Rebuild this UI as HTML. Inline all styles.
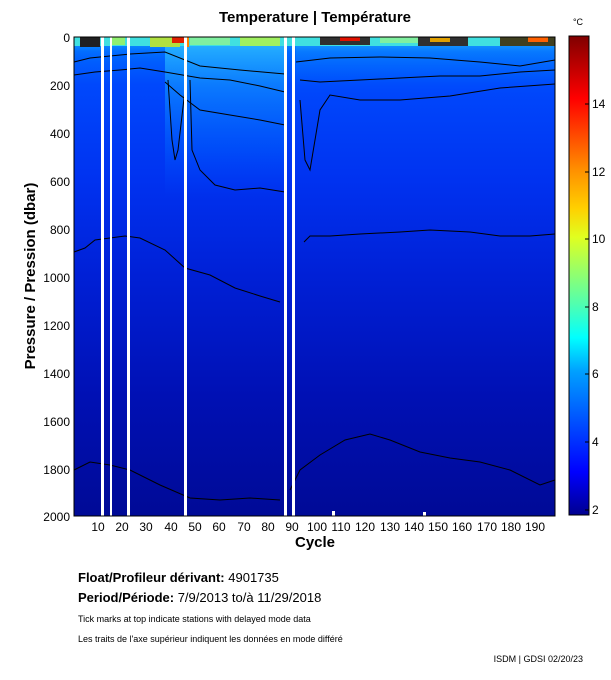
<!DOCTYPE html>
<html><head><meta charset="utf-8"><style>
body{margin:0;background:#fff;width:611px;height:675px;overflow:hidden;font-family:"Liberation Sans",sans-serif}
</style></head><body>
<svg width="611" height="675" viewBox="0 0 611 675" xmlns="http://www.w3.org/2000/svg" font-family="Liberation Sans, sans-serif">
<defs>
<linearGradient id="base" x1="0" y1="0" x2="0" y2="1">
<stop offset="0" stop-color="#10a0ff"/>
<stop offset="0.03" stop-color="#0068ff"/>
<stop offset="0.1" stop-color="#0048fc"/>
<stop offset="0.3" stop-color="#0032f0"/>
<stop offset="0.5" stop-color="#0020d6"/>
<stop offset="0.75" stop-color="#0010b4"/>
<stop offset="1" stop-color="#000a96"/>
</linearGradient>
<linearGradient id="mid" x1="0" y1="0" x2="0" y2="1">
<stop offset="0" stop-color="#30c0ff" stop-opacity="0.9"/>
<stop offset="0.3" stop-color="#1090ff" stop-opacity="0.7"/>
<stop offset="0.7" stop-color="#0068ff" stop-opacity="0.4"/>
<stop offset="1" stop-color="#0050ff" stop-opacity="0"/>
</linearGradient>
<linearGradient id="cb" x1="0" y1="1" x2="0" y2="0">
<stop offset="0" stop-color="#00008f"/>
<stop offset="0.09" stop-color="#0000ff"/>
<stop offset="0.3" stop-color="#00a0ff"/>
<stop offset="0.37" stop-color="#00ffff"/>
<stop offset="0.44" stop-color="#50ffb0"/>
<stop offset="0.58" stop-color="#e0ff20"/>
<stop offset="0.64" stop-color="#ffd000"/>
<stop offset="0.72" stop-color="#ff9000"/>
<stop offset="0.87" stop-color="#ff0000"/>
<stop offset="1" stop-color="#800000"/>
</linearGradient>
</defs>
<text x="315" y="22" font-size="15" font-weight="bold" text-anchor="middle">Temperature | Température</text>
<rect x="74" y="37" width="481" height="479" fill="url(#base)"/>
<rect x="165" y="37" width="120" height="160" fill="url(#mid)"/>
<rect x="296" y="37" width="259" height="60" fill="url(#mid)" opacity="0.5"/>
<rect x="74" y="37" width="91" height="30" fill="url(#mid)" opacity="0.5"/>
<rect x="74" y="37" width="481" height="9" fill="#40e0e0"/>
<rect x="80" y="37" width="20" height="10" fill="#202020"/>
<rect x="110" y="37" width="15" height="8" fill="#90f070"/>
<rect x="150" y="37" width="30" height="10" fill="#b0e040"/>
<rect x="172" y="37" width="12" height="6" fill="#e02000"/>
<rect x="184" y="37" width="5" height="10" fill="#ff8000"/>
<rect x="190" y="37" width="40" height="8" fill="#80f0a0"/>
<rect x="240" y="37" width="40" height="9" fill="#a0f060"/>
<rect x="320" y="37" width="50" height="8" fill="#303030"/>
<rect x="340" y="37" width="20" height="4" fill="#e01000"/>
<rect x="380" y="37" width="40" height="6" fill="#80f0a0"/>
<rect x="418" y="37" width="50" height="9" fill="#303030"/>
<rect x="430" y="38" width="20" height="4" fill="#e0a000"/>
<rect x="500" y="37" width="55" height="9" fill="#404020"/>
<rect x="528" y="37" width="20" height="5" fill="#ff6000"/>
<g fill="none" stroke="#000" stroke-width="1">
<polyline points="74,62 90,58 110,56 130,54 165,52 200,66 240,70 285,74"/>
<polyline points="74,75 95,72 120,70 140,68 165,72 200,78 230,80 260,86 285,92"/>
<polyline points="165,82 180,95 200,110 230,115 260,120 285,125"/>
<polyline points="168,80 172,140 175,160 178,150 185,90"/>
<polyline points="190,80 192,150 200,170 215,185 235,190 260,188 285,192"/>
<polyline points="296,62 330,58 380,57 430,58 480,62 520,66 555,60"/>
<polyline points="300,80 320,82 360,80 400,78 440,76 480,76 520,72 555,70"/>
<polyline points="300,100 305,160 310,170 320,110 330,95 360,100 400,100 450,96 500,88 555,84"/>
<polyline points="74,252 85,248 95,240 110,238 125,236 140,238 165,250 185,268 210,275 235,288 260,296 280,302"/>
<polyline points="304,242 310,236 330,236 360,234 400,232 430,230 470,232 500,236 530,236 555,234"/>
<polyline points="74,470 90,462 110,465 130,470 160,485 190,498 220,500 250,498 280,500"/>
<polyline points="290,490 300,470 320,455 345,440 370,434 390,440 420,452 450,458 480,462 510,470 540,485 555,480"/>
</g>
<g fill="#fff">
<rect x="101" y="37" width="3" height="479"/>
<rect x="110" y="37" width="2" height="479"/>
<rect x="127" y="37" width="3" height="479"/>
<rect x="184" y="37" width="3" height="479"/>
<rect x="284" y="37" width="3" height="479"/>
<rect x="292" y="37" width="3" height="479"/>
<rect x="332" y="511" width="3" height="5"/>
<rect x="423" y="512" width="3" height="4"/>
</g>
<rect x="74" y="37" width="481" height="479" fill="none" stroke="#000" stroke-width="1"/>
<g font-size="12" text-anchor="end">
<text x="70" y="42">0</text><text x="70" y="90">200</text><text x="70" y="138">400</text><text x="70" y="186">600</text><text x="70" y="234">800</text><text x="70" y="282">1000</text><text x="70" y="330">1200</text><text x="70" y="378">1400</text><text x="70" y="426">1600</text><text x="70" y="474">1800</text><text x="70" y="521">2000</text>
</g>
<text transform="translate(35,276) rotate(-90)" font-size="15" font-weight="bold" text-anchor="middle">Pressure / Pression (dbar)</text>
<g font-size="12" text-anchor="middle">
<text x="98" y="531">10</text><text x="122" y="531">20</text><text x="146" y="531">30</text><text x="171" y="531">40</text><text x="195" y="531">50</text><text x="219" y="531">60</text><text x="244" y="531">70</text><text x="268" y="531">80</text><text x="292" y="531">90</text><text x="317" y="531">100</text><text x="341" y="531">110</text><text x="365" y="531">120</text><text x="390" y="531">130</text><text x="414" y="531">140</text><text x="438" y="531">150</text><text x="462" y="531">160</text><text x="487" y="531">170</text><text x="511" y="531">180</text><text x="535" y="531">190</text>
</g>
<text x="315" y="547" font-size="15" font-weight="bold" text-anchor="middle">Cycle</text>
<text x="578" y="25" font-size="9" text-anchor="middle">°C</text>
<rect x="569" y="36" width="20" height="479" fill="url(#cb)" stroke="#000"/>
<g font-size="12">
<text x="592" y="514">2</text><text x="592" y="446">4</text><text x="592" y="378">6</text><text x="592" y="311">8</text><text x="592" y="243">10</text><text x="592" y="176">12</text><text x="592" y="108">14</text>
</g>
<g stroke="#000"><line x1="585" y1="104" x2="589" y2="104"/><line x1="585" y1="172" x2="589" y2="172"/><line x1="585" y1="239" x2="589" y2="239"/><line x1="585" y1="307" x2="589" y2="307"/><line x1="585" y1="374" x2="589" y2="374"/><line x1="585" y1="442" x2="589" y2="442"/><line x1="585" y1="510" x2="589" y2="510"/></g>
<text x="78" y="582" font-size="13" font-weight="bold">Float/Profileur dérivant: <tspan font-weight="normal">4901735</tspan></text>
<text x="78" y="602" font-size="13" font-weight="bold">Period/Période: <tspan font-weight="normal">7/9/2013  to/à  11/29/2018</tspan></text>
<text x="78" y="622" font-size="9">Tick marks at top indicate stations with delayed mode data</text>
<text x="78" y="642" font-size="9">Les traits de l'axe supérieur indiquent les données en mode différé</text>
<text x="583" y="662" font-size="9" text-anchor="end">ISDM | GDSI  02/20/23</text>
</svg>
</body></html>
